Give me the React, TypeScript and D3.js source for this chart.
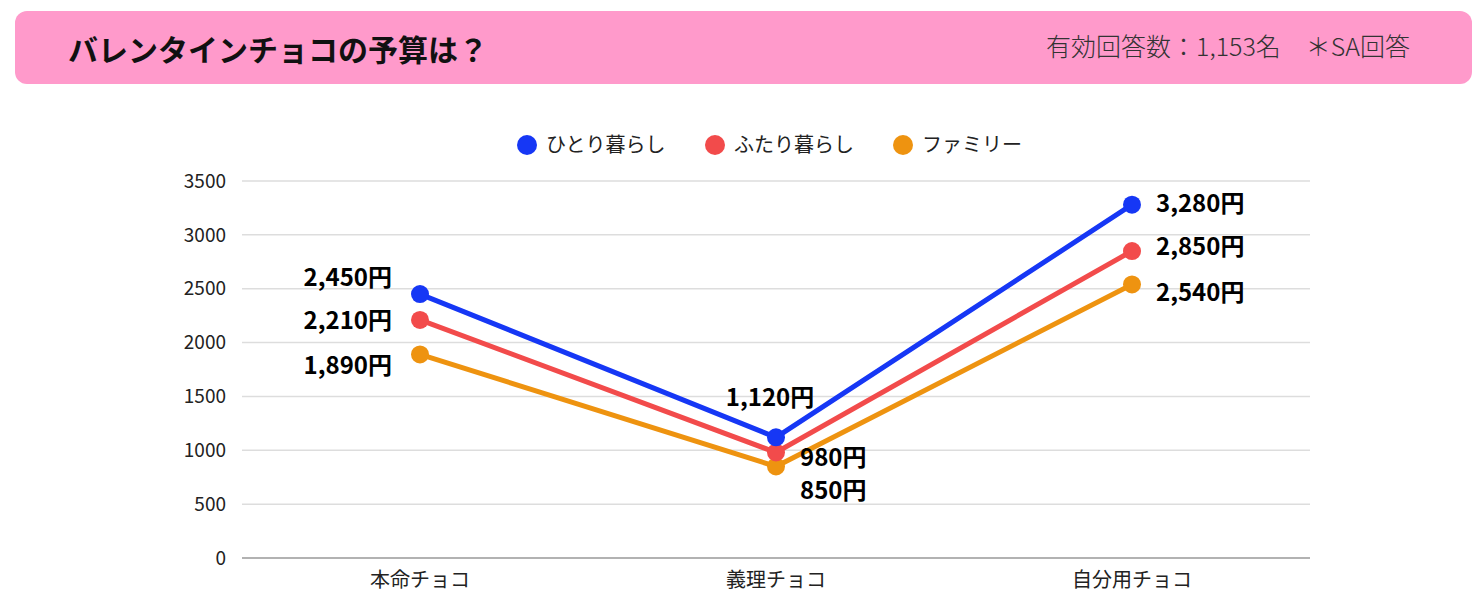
import { useEffect, useRef } from "react";
import * as d3 from "d3";

const categories = ["本命チョコ", "義理チョコ", "自分用チョコ"];
const seriesNames = ["ひとり暮らし", "ふたり暮らし", "ファミリー"];
const single = [2450, 1120, 3280];
const couple = [2210, 980, 2850];
const family = [1890, 850, 2540];
const yTicks = [0, 500, 1000, 1500, 2000, 2500, 3000, 3500];

const colors = ["#1637F5", "#F24B4B", "#EE9310"];
// label placement per series/category: [dx, dy, anchor]
const labelPos: [number, number, string][][] = [
  [[-28, -17, "end"], [-6, -40, "middle"], [24, -1, "start"]],
  [[-28, 1, "end"], [24, 5, "start"], [24, -4, "start"]],
  [[-28, 11, "end"], [24, 24, "start"], [24, 8, "start"]],
];

const FONT = "'Noto Sans CJK JP', 'Noto Sans', sans-serif";

const App = () => {
  const svgRef = useRef<SVGSVGElement>(null);

  useEffect(() => {
    document.body.style.margin = "0";
    if (!svgRef.current) return;
    const svg = d3.select(svgRef.current);
    svg.selectAll("*").remove();
    svg.style("font-family", FONT);

    // header
    svg.append("rect")
      .attr("x", 15).attr("y", 11).attr("width", 1457).attr("height", 73)
      .attr("rx", 12).attr("fill", "#FF9ACB");
    svg.append("text")
      .attr("x", 68).attr("y", 61)
      .attr("font-size", 30).attr("font-weight", 700).attr("fill", "#111")
      .text("バレンタインチョコの予算は？");
    svg.append("text")
      .attr("x", 1410).attr("y", 56).attr("text-anchor", "end")
      .attr("font-size", 25).attr("font-weight", 300).attr("fill", "#333")
      .text("有効回答数：1,153名　＊SA回答");

    const x = d3.scalePoint<string>().domain(categories).range([242, 1310]).padding(0.5);
    const y = d3.scaleLinear().domain([0, 3500]).range([558, 181]);

    // grid + y labels
    const g = svg.append("g");
    g.selectAll("line.grid").data(yTicks).join("line")
      .attr("x1", 242).attr("x2", 1310)
      .attr("y1", (d) => y(d)).attr("y2", (d) => y(d))
      .attr("stroke", (d) => (d === 0 ? "#999" : "#ddd"))
      .attr("stroke-width", 1.5);
    g.selectAll("text.tick").data(yTicks).join("text")
      .attr("x", 226).attr("y", (d) => y(d)).attr("dy", "0.35em")
      .attr("text-anchor", "end").attr("font-size", 19).attr("fill", "#222")
      .text((d) => d);
    g.selectAll("text.cat").data(categories).join("text")
      .attr("x", (d) => x(d)!).attr("y", 587)
      .attr("text-anchor", "middle").attr("font-size", 20).attr("fill", "#222")
      .text((d) => d);

    // legend
    const legendX = [527, 715, 903];
    seriesNames.forEach((name, i) => {
      svg.append("circle").attr("cx", legendX[i]).attr("cy", 145).attr("r", 10).attr("fill", colors[i]);
      svg.append("text")
        .attr("x", legendX[i] + 19).attr("y", 145).attr("dy", "0.35em")
        .attr("font-size", 20).attr("fill", "#222").text(name);
    });

    const series = [single, couple, family];
    const line = d3.line<number>()
      .x((_, i) => x(categories[i])!)
      .y((d) => y(d));

    // draw bottom series first so blue sits on top
    [2, 1, 0].forEach((s) => {
      svg.append("path").datum(series[s])
        .attr("d", line).attr("fill", "none")
        .attr("stroke", colors[s]).attr("stroke-width", 5);
    });
    [2, 1, 0].forEach((s) => {
      svg.selectAll(null).data(series[s]).join("circle")
        .attr("cx", (_, i) => x(categories[i])!).attr("cy", (d) => y(d))
        .attr("r", 9).attr("fill", colors[s]);
    });

    series.forEach((vals, s) => {
      vals.forEach((v, i) => {
        const [dx, dy, anchor] = labelPos[s][i];
        svg.append("text")
          .attr("x", x(categories[i])! + dx).attr("y", y(v) + dy).attr("dy", "0.35em")
          .attr("text-anchor", anchor)
          .attr("font-size", 24).attr("font-weight", 700).attr("fill", "#000")
          .text(`${d3.format(",")(v)}円`);
      });
    });
  }, []);

  return <svg ref={svgRef} width={1479} height={603} style={{ display: "block" }} />;
};

export default App;
